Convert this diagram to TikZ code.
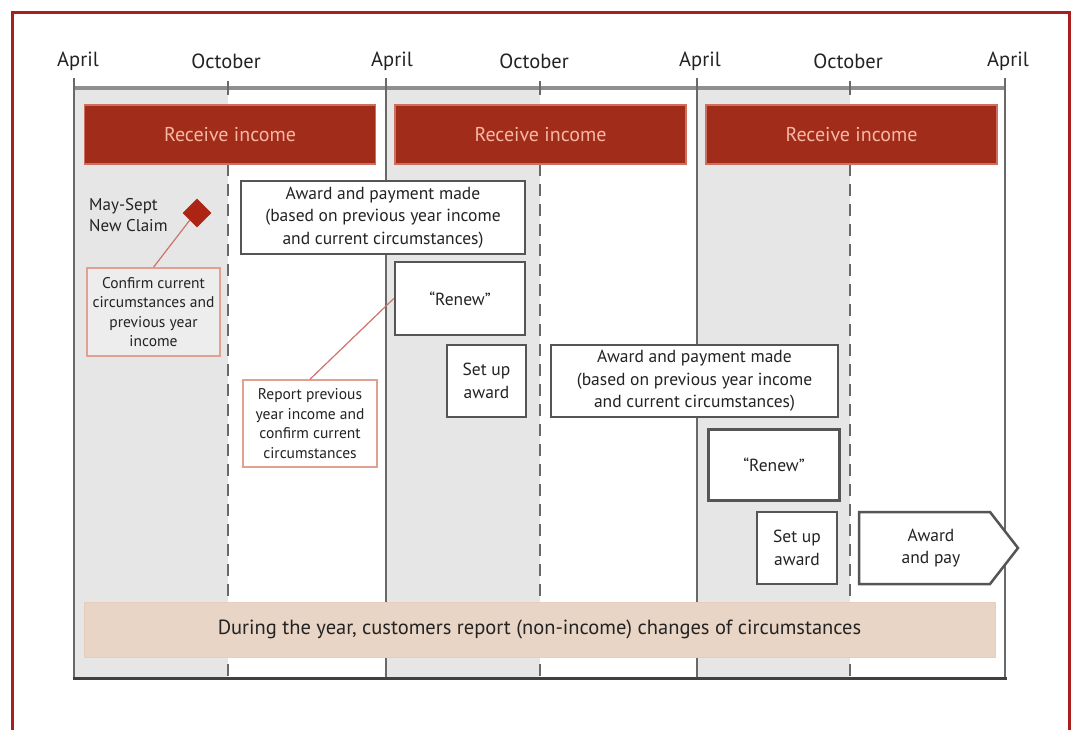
\documentclass[tikz,border=0pt]{standalone}
\usepackage{fontspec}
\setmainfont{PT Sans}
\usetikzlibrary{shapes.geometric}
\definecolor{framered}{RGB}{170,30,30}
\definecolor{incfill}{RGB}{162,44,26}
\definecolor{inctext}{RGB}{246,184,164}
\definecolor{incedge}{RGB}{205,110,95}
\definecolor{diared}{RGB}{172,36,20}
\definecolor{salmon}{RGB}{226,160,145}
\definecolor{connred}{RGB}{205,115,105}
\definecolor{bandfill}{RGB}{233,213,197}
\definecolor{lightshade}{RGB}{230,230,230}
\definecolor{boxedge}{RGB}{85,85,85}
\definecolor{axisgray}{RGB}{105,105,105}
\definecolor{txt}{RGB}{35,35,35}
\tikzset{
  income/.style={draw=incedge, line width=1.5, fill=incfill, text=inctext, minimum width=291, minimum height=59, inner sep=0, font=\fontsize{20}{22}\selectfont},
  whitebox/.style={draw=boxedge, line width=2.5, fill=white, text=txt, align=center, inner sep=0, font=\fontsize{17.5}{22.5}\selectfont},
  notebox/.style={draw=salmon, line width=1.5, text=txt, align=center, inner sep=0, font=\fontsize{15.5}{19.5}\selectfont},
  monthlabel/.style={text=txt, font=\fontsize{20.5}{22}\selectfont},
  aprilline/.style={draw=axisgray, line width=2.5},
  octline/.style={draw=axisgray, line width=2.5, dash pattern=on 12pt off 8pt},
  conn/.style={draw=connred, line width=1.2},
}
\begin{document}
\begin{tikzpicture}[x=1pt,y=-1pt]
\useasboundingbox (0,0) rectangle (1071,729);
\fill[white] (0,0) rectangle (1071,729);
% outer frame
\draw[framered, line width=3] (12,12) rectangle (1069,760);
% shading April-October
\fill[lightshade] (74,88) rectangle (228,678);
\fill[lightshade] (386,88) rectangle (540,678);
\fill[lightshade] (697,88) rectangle (850,678);
% month labels
\node[monthlabel] (m1) at (78,61) {April};
\node[monthlabel] (m2) at (226,61) {October};
\node[monthlabel] (m3) at (392,61) {April};
\node[monthlabel] (m4) at (534,61) {October};
\node[monthlabel] (m5) at (700,61) {April};
\node[monthlabel] (m6) at (848,61) {October};
\node[monthlabel] (m7) at (1008,61) {April};
% axis lines
\draw[axisgray!75, line width=3.5] (74,88) -- (1005,88);
\foreach \x in {74,386,697,1005} \draw[aprilline] (\x,78) -- (\x,678);
\foreach \x in {228,540,850} {
  \draw[aprilline] (\x,81) -- (\x,95);
  \draw[octline] (\x,104) -- (\x,678);
}
\draw[black!75, line width=3] (72.5,678) -- (1006.5,678);
% receive income bars
\node[income] (inc1) at (230,134.5) {Receive income};
\node[income] (inc2) at (540.5,134.5) {Receive income};
\node[income] (inc3) at (851.5,134.5) {Receive income};
% new claim
\node[text=txt, align=left, anchor=west, inner sep=0, font=\fontsize{17}{21}\selectfont] (may) at (89,215) {May-Sept\\New Claim};
\node[diamond, fill=diared, minimum width=29, minimum height=29, inner sep=0] (dia) at (197,213) {};
\node[notebox, fill=lightshade!70!white, minimum width=133, minimum height=88] (conf) at (153.5,312) {Confirm current\\circumstances and\\previous year\\income};
\draw[conn] (dia.south west) -- (conf.north);
% year 1 boxes
\node[whitebox, minimum width=284, minimum height=73] (aw1) at (383,217.5) {Award and payment made\\(based on previous year income\\and current circumstances)};
\node[whitebox, minimum width=130, minimum height=73] (ren1) at (460,298.5) {“Renew”};
\node[notebox, fill=white, minimum width=134, minimum height=87] (rep) at (310,423.5) {Report previous\\year income and\\confirm current\\circumstances};
\draw[conn] (rep.north) -- (ren1.west);
\node[whitebox, minimum width=79, minimum height=72] (set1) at (486.5,381) {Set up\\award};
% year 2 boxes
\node[whitebox, minimum width=287, minimum height=72] (aw2) at (694.5,381) {Award and payment made\\(based on previous year income\\and current circumstances)};
\node[whitebox, minimum width=131, minimum height=71] (ren2) at (774,465) {“Renew”};
\node[whitebox, minimum width=80, minimum height=72] (set2) at (797,548) {Set up\\award};
% award and pay arrow
\draw[draw=boxedge, line width=2.5, fill=white] (859,512) -- (990,512) -- (1018,548) -- (990,584) -- (859,584) -- cycle;
\node[text=txt, align=center, inner sep=0, font=\fontsize{17.5}{22.5}\selectfont] (pay) at (931,548) {Award\\and pay};
% bottom band
\node[fill=bandfill, draw=bandfill!85!salmon, line width=1, minimum width=911, minimum height=55, inner sep=0, text=txt, font=\fontsize{20.5}{22}\selectfont] (band) at (539.5,629.5) {During the year, customers report (non-income) changes of circumstances};
\end{tikzpicture}
\end{document}
